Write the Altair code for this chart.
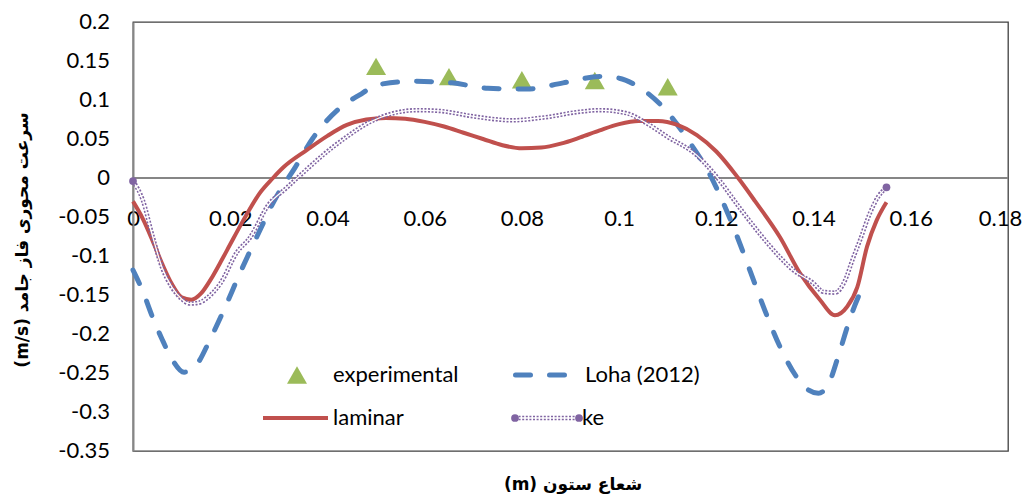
import altair as alt
import pandas as pd

# ---------------- data ----------------
exp_x = [0.05, 0.065, 0.08, 0.095, 0.11]
exp_y = [0.143, 0.130, 0.126, 0.125, 0.117]

loha_x = [0.000, 0.002, 0.004, 0.006, 0.008, 0.0105, 0.013, 0.016, 0.019, 0.022,
          0.0255, 0.0295, 0.0333, 0.037, 0.0426, 0.047, 0.050, 0.0576, 0.0656, 0.073,
          0.081, 0.0885, 0.096, 0.100, 0.1037, 0.109, 0.1146, 0.1187, 0.123, 0.127,
          0.130, 0.133, 0.1365, 0.139, 0.141, 0.143, 0.1455, 0.1475, 0.150]
loha_y = [-0.118, -0.145, -0.178, -0.207, -0.232, -0.249, -0.240, -0.205, -0.165, -0.122,
          -0.075, -0.024, 0.013, 0.051, 0.090, 0.108, 0.119, 0.124, 0.122, 0.115,
          0.114, 0.122, 0.130, 0.128, 0.118, 0.091, 0.045, 0.004, -0.055, -0.120,
          -0.170, -0.215, -0.255, -0.272, -0.276, -0.265, -0.220, -0.180, -0.141]

lam_x = [0.000, 0.002, 0.004, 0.006, 0.008, 0.010, 0.012, 0.014, 0.016, 0.018,
         0.020, 0.022, 0.024, 0.026, 0.0288, 0.031, 0.0358, 0.040, 0.044, 0.048,
         0.052, 0.056, 0.060, 0.064, 0.068, 0.072, 0.076, 0.080, 0.084, 0.088,
         0.092, 0.096, 0.100, 0.104, 0.108, 0.112, 0.116, 0.120, 0.1245, 0.128,
         0.1331, 0.1372, 0.1413, 0.1444, 0.1469, 0.149, 0.151, 0.153, 0.155]
lam_y = [-0.030, -0.052, -0.080, -0.110, -0.136, -0.153, -0.156, -0.148, -0.130, -0.108,
         -0.085, -0.062, -0.040, -0.020, 0.000, 0.014, 0.036, 0.054, 0.068, 0.075,
         0.077, 0.076, 0.072, 0.066, 0.058, 0.050, 0.042, 0.038, 0.039, 0.044,
         0.052, 0.061, 0.069, 0.073, 0.073, 0.068, 0.055, 0.034, 0.000, -0.030,
         -0.076, -0.122, -0.156, -0.176, -0.165, -0.140, -0.088, -0.054, -0.031]

ke_x = [0.000, 0.002, 0.004, 0.006, 0.008, 0.010, 0.0117, 0.0135, 0.0152, 0.018,
        0.0214, 0.024, 0.0278, 0.0317, 0.0345, 0.039, 0.044, 0.0488, 0.0535, 0.0584,
        0.063, 0.070, 0.078, 0.085, 0.092, 0.096, 0.1016, 0.1057, 0.1099, 0.116,
        0.120, 0.125, 0.129, 0.133, 0.1358, 0.140, 0.142, 0.1444, 0.1465, 0.148,
        0.1496, 0.1516, 0.1533, 0.155]
ke_y = [-0.004, -0.028, -0.074, -0.115, -0.140, -0.155, -0.161, -0.160, -0.154, -0.135,
        -0.095, -0.077, -0.035, -0.012, 0.004, 0.029, 0.053, 0.072, 0.083, 0.087,
        0.086, 0.079, 0.074, 0.078, 0.085, 0.087, 0.083, 0.070, 0.053, 0.029,
        0.002, -0.040, -0.072, -0.101, -0.118, -0.135, -0.146, -0.147, -0.131, -0.105,
        -0.079, -0.045, -0.024, -0.012]

x_ticks = [0, 0.02, 0.04, 0.06, 0.08, 0.10, 0.12, 0.14, 0.16, 0.18]
y_ticks = [0.2, 0.15, 0.1, 0.05, 0, -0.05, -0.1, -0.15, -0.2, -0.25, -0.3, -0.35]
y_tick_labels = ["0.2", "0.15", "0.1", "0.05", "0", "-0.05", "-0.1", "-0.15",
                 "-0.2", "-0.25", "-0.3", "-0.35"]

legend_labels = ["experimental", "Loha (2012)", "laminar", "ke"]
x_title = "(m) شعاع ستون"
y_title = "(m/s) سرعت محوری فاز جامد"

# ---------------- styling ----------------
C_EXP = "#9BBB59"
C_LOHA = "#4F81BD"
C_LAM = "#C0504D"
C_KE = "#8064A2"
FONT = "Lato"
W, H = 875, 429

exp_df = pd.DataFrame({"x": exp_x, "y": exp_y})
loha_df = pd.DataFrame({"x": loha_x, "y": loha_y})
lam_df = pd.DataFrame({"x": lam_x, "y": lam_y})
ke_df = pd.DataFrame({"x": ke_x, "y": ke_y})
ke_end_df = ke_df.iloc[[0, len(ke_df) - 1]]
ytick_df = pd.DataFrame({"y": y_ticks, "label": y_tick_labels})
one = pd.DataFrame({"a": [0]})

xs = alt.Scale(domain=[0, 0.18], nice=False, zero=False)
ys = alt.Scale(domain=[-0.35, 0.2], nice=False, zero=False)

x_axis = alt.Axis(values=x_ticks, labelExpr="toString(round(datum.value*100)/100)",
                  ticks=False, domain=False, grid=False, labelBaseline="middle",
                  labelPadding=0, offset=-233, labelFont=FONT, labelFontSize=22,
                  labelColor="black", labelFlush=False, labelOverlap=False, title=None,
                  labelOffset={"condition": {"test": "datum.value > 0.17", "value": -8},
                               "value": 0})
y_axis = alt.Axis(values=y_ticks, labels=False,
                  ticks=False, domain=True, domainColor="#868686", domainWidth=2,
                  grid=False, title=None)

X = alt.X("x:Q", scale=xs, axis=x_axis)
Y = alt.Y("y:Q", scale=ys, axis=y_axis)

zero_rule = alt.Chart(one).mark_rule(color="#868686", strokeWidth=2).encode(
    y=alt.datum(0, scale=ys, axis=y_axis), x=alt.value(0), x2=alt.value(W))

ytick_layer = alt.Chart(ytick_df).mark_text(align="right", baseline="middle", font=FONT,
                                            fontSize=22, color="black").encode(
    x=alt.value(-23), y=Y, text="label:N")

exp_layer = alt.Chart(exp_df).mark_point(shape="triangle-up", filled=True, size=400,
                                         color=C_EXP, opacity=1).encode(x=X, y=Y)

loha_layer = alt.Chart(loha_df).mark_line(color=C_LOHA, strokeWidth=5, strokeDash=[15, 19],
                                          strokeCap="round", interpolate="monotone").encode(x=X, y=Y)

lam_layer = alt.Chart(lam_df).mark_line(color=C_LAM, strokeWidth=4,
                                        interpolate="monotone").encode(x=X, y=Y)

ke_outer = alt.Chart(ke_df).mark_line(color=C_KE, strokeWidth=4.5, strokeDash=[2, 1.6],
                                      interpolate="monotone").encode(x=X, y=Y)
ke_inner = alt.Chart(ke_df).mark_line(color="white", strokeWidth=1.3,
                                      interpolate="monotone").encode(x=X, y=Y)
ke_pts = alt.Chart(ke_end_df).mark_point(shape="circle", filled=True, size=60,
                                         color=C_KE, opacity=1).encode(x=X, y=Y)

# ---------------- legend (drawn inside the plot) ----------------
R1, R2 = 353, 396
leg = []
leg.append(alt.Chart(one).mark_point(shape="triangle-up", filled=True, size=400, color=C_EXP,
                                     opacity=1).encode(x=alt.value(164), y=alt.value(R1)))
leg.append(alt.Chart(one).mark_text(text=legend_labels[0], align="left", baseline="middle",
                                    font=FONT, fontSize=22, color="black").encode(
    x=alt.value(200), y=alt.value(R1)))
leg.append(alt.Chart(one).mark_rule(color=C_LOHA, strokeWidth=5, strokeDash=[15, 19],
                                    strokeCap="round").encode(
    x=alt.value(382.5), x2=alt.value(431.5), y=alt.value(R1)))
leg.append(alt.Chart(one).mark_text(text=legend_labels[1], align="left", baseline="middle",
                                    font=FONT, fontSize=22, color="black").encode(
    x=alt.value(452), y=alt.value(R1)))
leg.append(alt.Chart(one).mark_rule(color=C_LAM, strokeWidth=4).encode(
    x=alt.value(130), x2=alt.value(195), y=alt.value(R2)))
leg.append(alt.Chart(one).mark_text(text=legend_labels[2], align="left", baseline="middle",
                                    font=FONT, fontSize=22, color="black").encode(
    x=alt.value(200), y=alt.value(R2)))
leg.append(alt.Chart(one).mark_rule(color=C_KE, strokeWidth=4.5, strokeDash=[2, 1.6]).encode(
    x=alt.value(382), x2=alt.value(446), y=alt.value(R2)))
leg.append(alt.Chart(one).mark_rule(color="white", strokeWidth=1.3).encode(
    x=alt.value(382), x2=alt.value(446), y=alt.value(R2)))
leg.append(alt.Chart(one).mark_point(shape="circle", filled=True, size=60, color=C_KE,
                                     opacity=1).encode(x=alt.value(382), y=alt.value(R2)))
leg.append(alt.Chart(one).mark_point(shape="circle", filled=True, size=60, color=C_KE,
                                     opacity=1).encode(x=alt.value(446), y=alt.value(R2)))
leg.append(alt.Chart(one).mark_text(text=legend_labels[3], align="left", baseline="middle",
                                    font=FONT, fontSize=22, color="black").encode(
    x=alt.value(449), y=alt.value(R2)))

# ---------------- titles ----------------
xt = alt.Chart(one).mark_text(text=x_title, align="center", baseline="middle",
                              font="DejaVu Sans", fontWeight="bold", fontSize=17,
                              color="black").encode(x=alt.value(440), y=alt.value(463))
yt = alt.Chart(one).mark_text(text=y_title, align="center", baseline="middle", angle=270,
                              font="DejaVu Sans", fontWeight="bold", fontSize=17,
                              color="black").encode(x=alt.value(-110), y=alt.value(218))

chart = alt.layer(
    zero_rule, ytick_layer, exp_layer, loha_layer, lam_layer, ke_outer, ke_inner, ke_pts,
    *leg, xt, yt
).properties(
    width=W, height=H,
    autosize=alt.AutoSizeParams(type="none"),
    padding={"left": 125, "top": 14, "right": 15, "bottom": 45},
    background="white",
).configure_view(stroke="#404040", strokeWidth=1.3)

chart.save("out.html", embed_options={"renderer": "svg", "actions": False})
